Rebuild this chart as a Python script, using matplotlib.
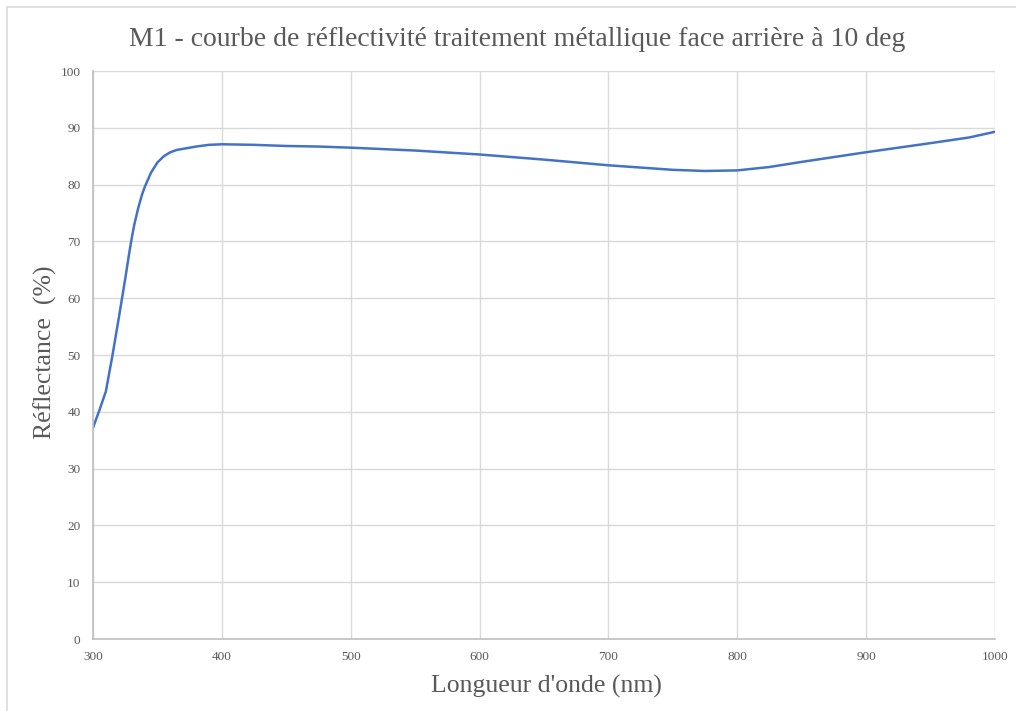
# Courbe de réflectivité M1 (style Excel)

import numpy as np
import matplotlib
matplotlib.use('Agg')
import matplotlib.pyplot as plt
from matplotlib.patches import Rectangle

longueur_onde = [300, 305, 310, 315, 320, 325, 328, 330, 332, 335, 338, 340, 345, 350, 355, 360, 365,
                 370, 380, 390, 400, 425, 450, 475, 500, 550, 600, 650, 700, 750,
                 775, 800, 825, 850, 900, 950, 980, 1000]
reflectance = [37.2, 40.3, 43.6, 49.8, 56.5, 63.4, 67.8, 70.5, 72.9, 75.8, 78.2, 79.5, 82.1, 83.9, 85.0, 85.7, 86.1,
               86.3, 86.7, 87.0, 87.1, 87.0, 86.8, 86.7, 86.5, 86.0, 85.3, 84.4, 83.4, 82.6,
               82.4, 82.5, 83.1, 84.0, 85.7, 87.3, 88.3, 89.3]
xticks = [300, 400, 500, 600, 700, 800, 900, 1000]
yticks = [0, 10, 20, 30, 40, 50, 60, 70, 80, 90, 100]

plt.rcParams['font.family'] = ['Liberation Serif', 'DejaVu Serif']
gris = '#595959'

fig = plt.figure(figsize=(10.16, 7.11), dpi=100)
# cadre du graphique
fig.patches.append(Rectangle((7 / 1016, -0.05), 1.1, 1 - 7 / 711 + 0.05, transform=fig.transFigure,
                             fill=False, edgecolor='#d9d9d9', linewidth=1.2))

ax = fig.add_axes([93 / 1016, 1 - 639 / 711, (995 - 93) / 1016, (639 - 71) / 711])
ax.plot(longueur_onde, reflectance, color='#4472C4', linewidth=1.8,
        solid_joinstyle='round')
ax.set_xlim(300, 1000)
ax.set_ylim(0, 100)
ax.set_xticks(xticks)
ax.set_yticks(yticks)
ax.grid(True, color='#d9d9d9', linewidth=1.0)
ax.set_axisbelow(True)
for s in ['top', 'right']:
    ax.spines[s].set_visible(False)
for s in ['left', 'bottom']:
    ax.spines[s].set_color('#bfbfbf')
    ax.spines[s].set_linewidth(1.2)
ax.tick_params(length=0, labelsize=9.5, labelcolor=gris, pad=9)

fig.text(517 / 1016, 1 - 40 / 711, "M1 - courbe de réflectivité traitement métallique face arrière à 10 deg",
         ha='center', va='center', fontsize=20, color=gris)
fig.text(546 / 1016, 1 - 686 / 711, "Longueur d'onde (nm)", ha='center', va='center',
         fontsize=18.5, color=gris)
fig.text(45 / 1016, 1 - 352 / 711, "Réflectance  (%)", ha='center', va='center',
         rotation=90, fontsize=18.5, color=gris)

plt.savefig('out.png', dpi=100)
